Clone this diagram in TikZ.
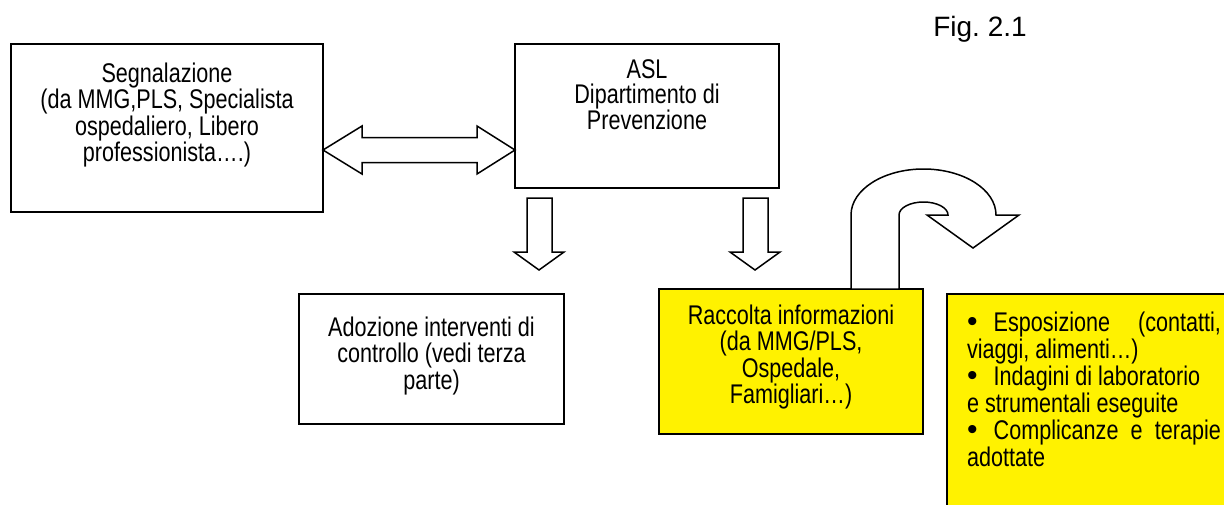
\documentclass[tikz,border=0pt]{standalone}
\usepackage{fontspec}
\setmainfont{Liberation Sans}[FakeStretch=0.8]
\newfontfamily\figfont{Liberation Sans}
\newcommand{\riquadro}[4]{\parbox[c][#2][t]{#1}{\lineskiplimit=-20pt\centering\rule{0pt}{#3}#4}}
\newcommand{\punto}{{\figfont\fontsize{15}{12}\selectfont•}\hspace{0.6em}}
\tikzset{
  casella/.style={draw,line width=0.75pt,inner sep=0pt,outer sep=0pt,anchor=north west,font=\fontsize{13.5}{13.25}\selectfont},
  freccia/.style={draw,line width=0.75pt,fill=white,line join=miter},
}

\begin{document}
\begin{tikzpicture}[x=0.5pt,y=-0.5pt]
\useasboundingbox (0,0) rectangle (1224,504);
\clip (0,0) rectangle (1224,504);
\node[anchor=base,font=\figfont\fontsize{14}{16}\selectfont] (fig) at (980,36) {Fig.\ 2.1};
\node[casella] (seg) at (11,44) {\riquadro{156pt}{84pt}{19pt}{Segnalazione\\(da MMG,PLS, Specialista\\ospedaliero, Libero\\professionista….)}};
\node[casella,font=\fontsize{13.5}{12.75}\selectfont] (asl) at (515,44) {\riquadro{132pt}{72pt}{17pt}{ASL\\Dipartimento di\\Prevenzione}};
\node[casella] (ado) at (299,294) {\riquadro{132.5pt}{65pt}{21pt}{Adozione interventi di\\controllo (vedi terza\\parte)}};
\node[casella,fill=yellow] (rac) at (659,289) {\riquadro{132pt}{72.5pt}{17.5pt}{Raccolta informazioni\\(da MMG/PLS,\\Ospedale,\\Famigliari…)}};
\node[casella,fill=yellow,font=\fontsize{13.5}{13.5}\selectfont] (esp) at (947,294) {\parbox[c][110pt][t]{150pt}{\hspace*{10pt}\parbox[t]{127pt}{\lineskiplimit=-20pt\raggedright\rule{0pt}{18.5pt}\punto Esposizione\hfill(contatti,\\
viaggi, alimenti…)\\
\punto Indagini di laboratorio\\
e strumentali eseguite\\
\punto Complicanze\hfill e\hfill terapie\\
adottate}}};
% frecce a blocco
\draw[freccia] (323,150) -- (362,126) -- (362,137.5) -- (477,137.5) -- (477,126) -- (515,150) -- (477,174) -- (477,162.5) -- (362,162.5) -- (362,174) -- cycle;
\foreach \x in {527,743}
  \draw[freccia] (\x,198) -- ++(25,0) -- ++(0,54) -- ++(12,0) -- ++(-25,18) -- ++(-25,-18) -- ++(13,0) -- cycle;
\draw[freccia] (851,289) -- (851,215) arc[start angle=180,end angle=360,x radius=72.5,y radius=46] -- (1019,215) -- (973,248) -- (927,215) -- (948,215) arc[start angle=0,end angle=-180,x radius=24.5,y radius=13] -- (899,289) -- cycle;
\end{tikzpicture}
\end{document}
